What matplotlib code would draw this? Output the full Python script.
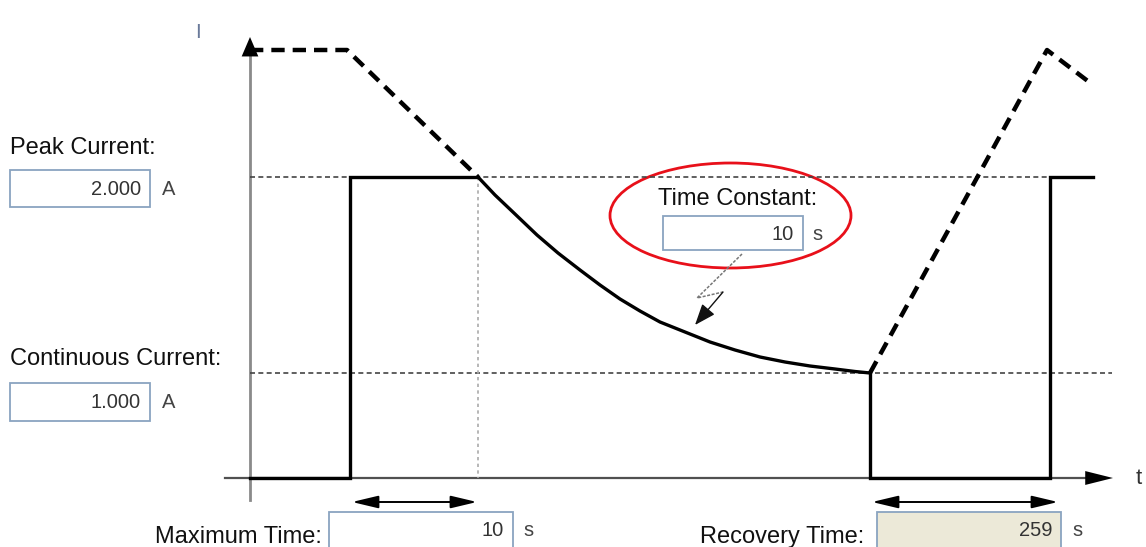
import matplotlib.pyplot as plt
from matplotlib.patches import Rectangle, Ellipse

plt.rcParams['font.family'] = ['Liberation Sans', 'DejaVu Sans']

# diagram units (screen-like, y grows downward)
x_axis_y = 478
y_axis_x = 250
peak_y = 177
cont_y = 373

# solid current trace
solid_x = [250, 350, 350, 478]
solid_y = [478, 478, 177, 177]
# decay curve
decay_x = [478, 495, 515, 537, 558, 580, 600, 620, 640, 660,
           685, 710, 735, 760, 785, 810, 835, 855, 870]
decay_y = [177, 195, 214, 235, 253, 270, 285, 299, 311, 322,
           332, 342, 350, 357, 362, 366, 369, 371.5, 373]
solid2_x = [870, 870, 1050, 1050, 1093]
solid2_y = [373, 478, 478, 177, 177]

# dashed (limit) trace
dash1_x = [250, 347, 478]
dash1_y = [50, 50, 177]
dash2_x = [870, 1047, 1093]
dash2_y = [373, 50, 85]

# lightning arrow
bolt_x = [742, 697, 723]
bolt_y = [254, 298, 292]
bolt_tip = (695, 325)

# input fields: label, label pos, box (x0, y0, x1, y1), value, unit x, fill
fields = [
    ("Peak Current:", (10, 154), (10, 170, 150, 207), "2.000", "A", 162, "white"),
    ("Continuous Current:", (10, 365), (10, 383, 150, 421), "1.000", "A", 162, "white"),
    ("Time Constant:", (658, 205), (663, 216, 803, 250), "10", "s", 812, "white"),
    ("Maximum Time:", (155, 543), (329, 512, 513, 560), "10", "s", 523, "white"),
    ("Recovery Time:", (700, 543), (877, 512, 1061, 560), "259", "s", 1072, "#ECE9D8"),
]

fig = plt.figure(figsize=(11.46, 5.47), dpi=100)
ax = fig.add_axes([0, 0, 1, 1])
ax.set_xlim(0, 1146)
ax.set_ylim(547, 0)
ax.axis('off')

# axes of the diagram
ax.plot([y_axis_x, y_axis_x], [500, 52], color='#8a8a8a', lw=2)
ax.annotate('', xy=(y_axis_x, 37), xytext=(y_axis_x, 62),
            arrowprops=dict(arrowstyle='-|>,head_length=1.4,head_width=0.6',
                            color='black', lw=0, mutation_scale=10,
                            shrinkA=0, shrinkB=0))
ax.plot([225, 1090], [x_axis_y, x_axis_y], color='#505050', lw=1.6)
ax.annotate('', xy=(1113, x_axis_y), xytext=(1080, x_axis_y),
            arrowprops=dict(arrowstyle='-|>,head_length=2.0,head_width=0.5',
                            color='black', lw=0, mutation_scale=10,
                            shrinkA=0, shrinkB=0))
ax.text(1136, x_axis_y, 't', fontsize=16, color='#333333', va='center', ha='left')
ax.text(198, 33, 'I', fontsize=15, color='#6a7a9a', va='center', ha='center')

# reference levels
ax.plot([y_axis_x, 1095], [peak_y, peak_y], color='#444444', lw=1.2, ls=(0, (3, 2)))
ax.plot([y_axis_x, 1112], [cont_y, cont_y], color='#444444', lw=1.2, ls=(0, (3, 2)))
ax.plot([478, 478], [peak_y, x_axis_y], color='#aaaaaa', lw=1.2, ls=(0, (2, 2)))

# traces
ax.plot(solid_x, solid_y, color='black', lw=2.4, solid_joinstyle='miter')
ax.plot(decay_x, decay_y, color='black', lw=2.4)
ax.plot(solid2_x, solid2_y, color='black', lw=2.4, solid_joinstyle='miter')
ax.plot(dash1_x, dash1_y, color='black', lw=3.2, ls=(0, (3, 1.8)))
ax.plot(dash2_x, dash2_y, color='black', lw=3.2, ls=(0, (3, 1.8)))

# duration arrows
for x0, x1 in [(352, 477), (872, 1058)]:
    ax.annotate('', xy=(x1, 502), xytext=(x0, 502),
                arrowprops=dict(arrowstyle='<|-|>,head_length=1.6,head_width=0.38',
                                color='black', lw=1.4,
                                mutation_scale=10, shrinkA=0, shrinkB=0))

# input fields
for label, (lx, ly), (bx0, by0, bx1, by1), val, unit, ux, fill in fields:
    ax.text(lx, ly, label, fontsize=17, color='#111111', ha='left', va='baseline')
    ax.add_patch(Rectangle((bx0, by0), bx1 - bx0, by1 - by0, facecolor=fill,
                           edgecolor='#8aa4c0', lw=1.3))
    vy = (by0 + by1) / 2 + 1 if by1 < 547 else by0 + 18
    ax.text(bx1 - 9, vy, val, fontsize=14.5, color='#333333', ha='right', va='center')
    ax.text(ux, vy, unit, fontsize=14.5, color='#444444', ha='left', va='center')

# highlight around time constant
ax.add_patch(Ellipse((730.5, 215.5), 241, 105, facecolor='none',
                     edgecolor='#e8101a', lw=2))

# lightning arrow
ax.plot(bolt_x, bolt_y, color='#777777', lw=1.1, ls=(0, (2, 1)))
ax.annotate('', xy=bolt_tip, xytext=(bolt_x[-1], bolt_y[-1]),
            arrowprops=dict(arrowstyle='-|>,head_length=1.3,head_width=0.5',
                            color='#111111', lw=1,
                            mutation_scale=10, shrinkA=0, shrinkB=0))

fig.savefig('out.png', dpi=100)
